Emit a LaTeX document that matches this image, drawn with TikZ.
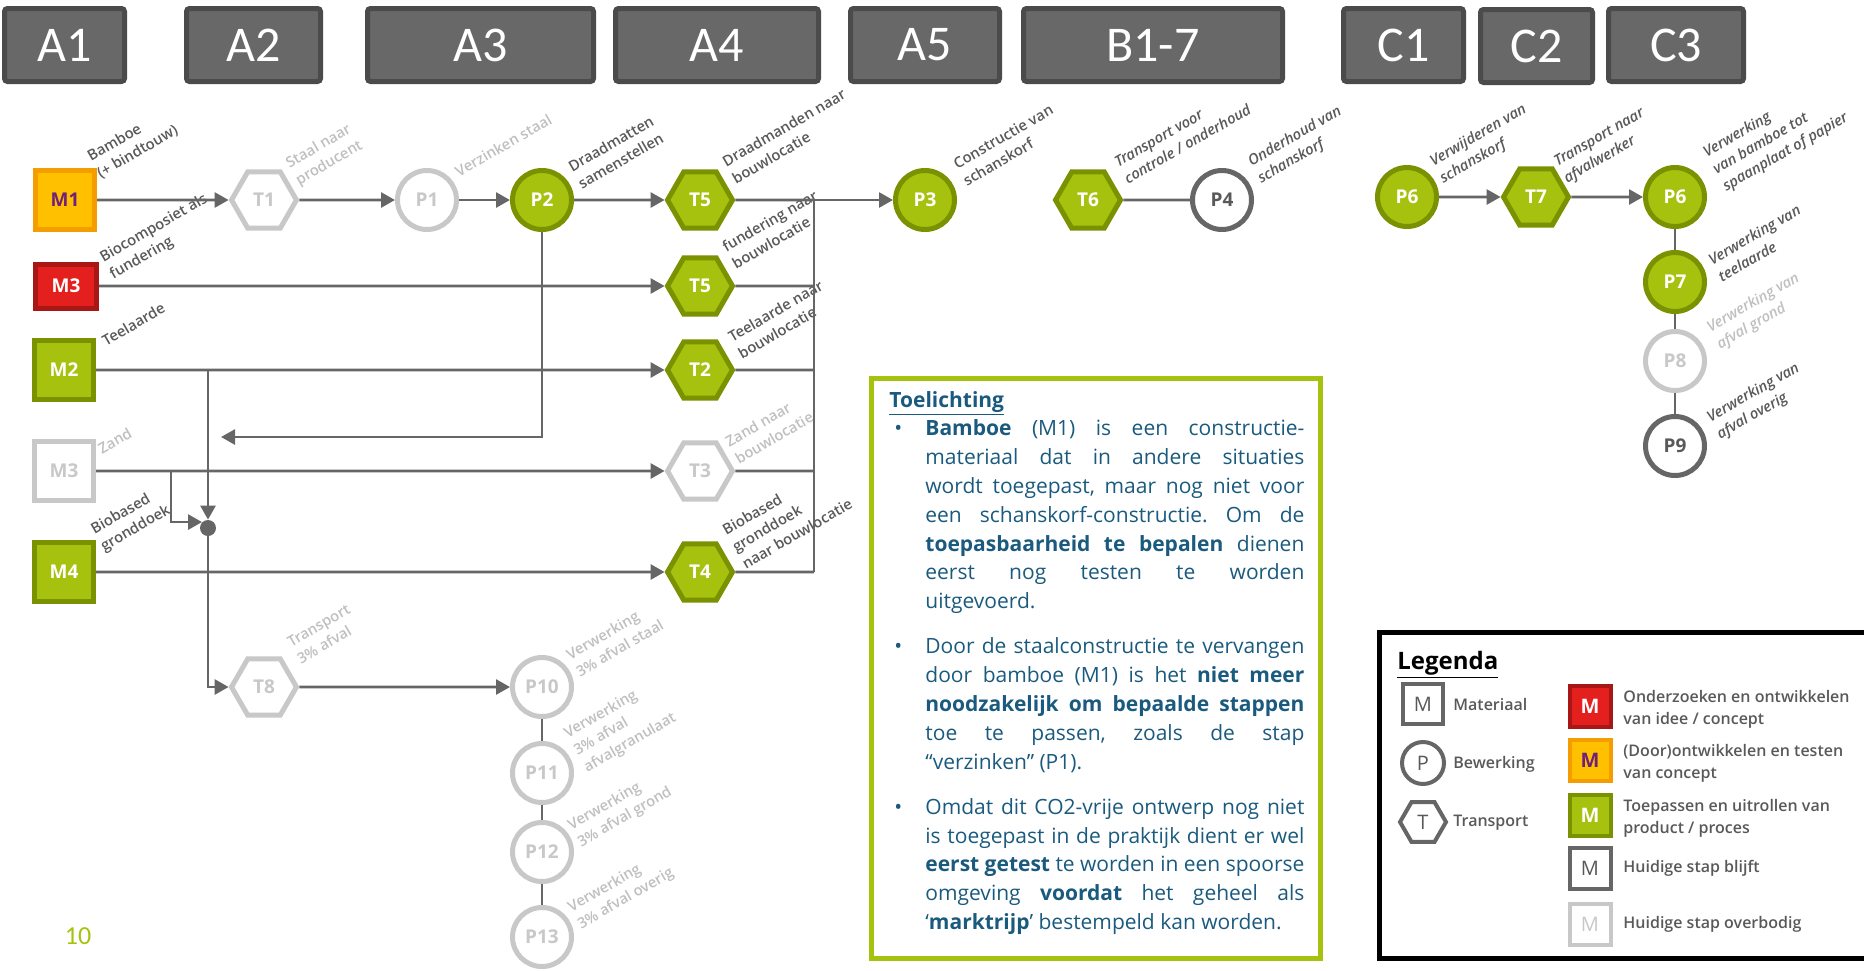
\documentclass[tikz,border=0pt]{standalone}
\usepackage{fontspec}
\setmainfont{Open Sans}
\newfontfamily\hdrfont{Carlito}
\IfFontExistsTF{Open Sans Semibold}{\newfontfamily\semib{Open Sans Semibold}}{\newcommand\semib{\bfseries}}
\usetikzlibrary{shapes.geometric,arrows.meta}
\frenchspacing

\definecolor{grnfill}{HTML}{A6C20F}
\definecolor{grnline}{HTML}{7A9100}
\definecolor{redfill}{HTML}{E3201E}
\definecolor{redline}{HTML}{A81616}
\definecolor{orgfill}{HTML}{FFC000}
\definecolor{orgline}{HTML}{F59C00}
\definecolor{purp}{HTML}{70207A}
\definecolor{dgray}{HTML}{666666}
\definecolor{lgray}{HTML}{C8C8C8}
\definecolor{lbl}{HTML}{595959}
\definecolor{lbllight}{HTML}{BFBFBF}
\definecolor{hdrfill}{HTML}{686868}
\definecolor{hdrline}{HTML}{4B4B4B}
\definecolor{toel}{HTML}{1A5A7E}

\newcommand\toellabel[1]{\hspace{2.5pt}#1\hfil}
\newenvironment{toelpunten}{\begin{list}{\textbullet}{\setlength\leftmargin{18pt}\setlength\labelwidth{18pt}\setlength\labelsep{0pt}\setlength\itemsep{8.2pt}\setlength\parsep{0pt}\setlength\topsep{0pt}\setlength\partopsep{0pt}\let\makelabel\toellabel}}{\end{list}}

\tikzset{
  hdr/.style={draw=hdrline,fill=hdrfill,line width=2.5pt,rounded corners=1.5pt,minimum height=36.5pt,text=white,font=\hdrfont\fontsize{25}{25}\selectfont},
  mat/.style={rectangle,line width=2.5pt,minimum width=29.5pt,minimum height=29.5pt,inner sep=0pt,font=\bfseries\fontsize{9.5}{10}\selectfont},
  proc/.style={circle,line width=2.5pt,minimum size=29.5pt,inner sep=0pt,font=\bfseries\fontsize{9.5}{10}\selectfont},
  trans/.style={regular polygon,regular polygon sides=6,line width=2.5pt,minimum size=32.5pt,inner sep=0pt,font=\bfseries\fontsize{9.5}{10}\selectfont},
  toepas/.style={draw=grnline,fill=grnfill,text=white},
  onderzoek/.style={draw=redline,fill=redfill,text=white},
  ontwikkel/.style={draw=orgline,fill=orgfill,text=purp},
  blijft/.style={draw=dgray,fill=white,text=lbl},
  overbodig/.style={draw=lgray,fill=white,text=lgray},
  lab/.style={anchor=south west,rotate=30,inner sep=0pt,align=left,text=lbl,font=\semib\fontsize{7.4}{9.8}\selectfont},
  labweg/.style={lab,text=lbllight},
  labit/.style={lab,font=\semib\itshape\fontsize{7.4}{9.8}\selectfont},
  flow/.style={draw=dgray,line width=1.35pt,-{Triangle[length=7pt,width=7.5pt]}},
  link/.style={draw=dgray,line width=1.35pt},
  dun/.style={draw=dgray,line width=1pt},
  legtxt/.style={anchor=west,inner sep=0pt,align=left,text=lbl,font=\semib\fontsize{8}{11}\selectfont},
  legsym/.style={line width=2pt,font=\fontsize{10}{10}\selectfont}
}

\begin{document}
\begin{tikzpicture}[x=0.5pt,y=-0.5pt]
\useasboundingbox (0,0) rectangle (1864,970);
% kolomkoppen
\node[hdr,minimum width=60pt] (a1) at (64.5,45) {A1};
\node[hdr,minimum width=67pt] (a2) at (253.5,45) {A2};
\node[hdr,minimum width=113pt] (a3) at (480.5,45) {A3};
\node[hdr,minimum width=101.5pt] (a4) at (717,45) {A4};
\node[hdr,minimum width=74.5pt] (a5) at (925,45) {A5};
\node[hdr,minimum width=129.5pt] (b17) at (1153,45) {B1-7};
\node[hdr,minimum width=60pt] (c1) at (1403.5,45) {C1};
\node[hdr,minimum width=56pt] (c2) at (1536.5,46) {C2};
\node[hdr,minimum width=67.5pt] (c3) at (1676,45) {C3};

% hoofdketen
\node[mat,ontwikkel] (m1) at (65,200) {M1};
\node[trans,overbodig] (t1) at (264,200) {T1};
\node[proc,overbodig] (p1) at (427,200) {P1};
\node[proc,toepas] (p2) at (542,200) {P2};
\node[trans,toepas] (t5a) at (700,200) {T5};
\node[proc,toepas] (p3) at (925,200) {P3};
\node[trans,toepas] (t6) at (1088,200) {T6};
\node[proc,blijft] (p4) at (1222,200) {P4};
\node[proc,toepas] (p6a) at (1407,197) {P6};
\node[trans,toepas] (t7) at (1536,197) {T7};
\node[proc,toepas] (p6b) at (1675,197) {P6};
\node[proc,toepas] (p7) at (1675,282) {P7};
\node[proc,overbodig] (p8) at (1675,361) {P8};
\node[proc,blijft] (p9) at (1675,446) {P9};

% overige materialen
\node[mat,onderzoek,minimum width=30.5pt,minimum height=22pt] (m3r) at (66,286) {M3};
\node[trans,toepas] (t5b) at (700,286) {T5};
\node[mat,toepas] (m2) at (64,370) {M2};
\node[trans,toepas] (t2) at (700,370) {T2};
\node[mat,overbodig] (m3g) at (64,471) {M3};
\node[trans,overbodig] (t3) at (700,471) {T3};
\node[mat,toepas] (m4) at (64,572) {M4};
\node[trans,toepas] (t4) at (700,572) {T4};

% afval 3%
\node[trans,overbodig] (t8) at (264,687) {T8};
\node[proc,overbodig] (p10) at (542,687) {P10};
\node[proc,overbodig] (p11) at (542,773) {P11};
\node[proc,overbodig] (p12) at (542,852) {P12};
\node[proc,overbodig] (p13) at (542,937) {P13};

\node[circle,fill=dgray,inner sep=0pt,minimum size=8pt] (jn) at (208,528) {};
\coordinate (mrg) at (814,200);
\coordinate (mrgb) at (814,572);
\coordinate (br) at (171,471);
\coordinate (ret) at (221,437);

% labels
\node[lab] (l-m1) at (102,181) {Bamboe\\(+ bindtouw)};
\node[labweg] (l-t1) at (301,189) {Staal naar\\producent};
\node[labweg] (l-p1) at (459,178) {Verzinken staal};
\node[lab] (l-p2) at (582,190) {Draadmatten\\samenstellen};
\node[lab] (l-t5a) at (736,185) {Draadmanden naar\\bouwlocatie};
\node[lab] (l-p3) at (967,187) {Constructie van\\schanskorf};
\node[labit] (l-t6) at (1128,185) {Transport voor\\controle / onderhoud};
\node[labit] (l-p4) at (1263,187) {Onderhoud van\\schanskorf};
\node[labit] (l-p6a) at (1445,187) {Verwijderen van\\schanskorf};
\node[labit] (l-t7) at (1569,187) {Transport naar\\afvalwerker};
\node[labit] (l-p6b) at (1728,195) {Verwerking\\van bamboe tot\\spaanplaat of papier};
\node[labit] (l-p7) at (1722,283) {Verwerking van\\teelaarde};
\node[labit,text=lbllight] (l-p8) at (1722,353) {Verwerking van\\afval grond};
\node[labit] (l-p9) at (1722,443) {Verwerking van\\afval overig};
\node[lab] (l-m3r) at (115,283) {Biocomposiet als\\fundering};
\node[lab] (l-t5b) at (736,270) {fundering naar\\bouwlocatie};
\node[lab] (l-m2) at (106,347) {Teelaarde};
\node[lab] (l-t2) at (742,360) {Teelaarde naar\\bouwlocatie};
\node[labweg] (l-m3g) at (102,455) {Zand};
\node[labweg] (l-t3) at (739,465) {Zand naar\\bouwlocatie};
\node[lab] (l-m4) at (106,555) {Biobased\\gronddoek};
\node[lab] (l-t4) at (746,570) {Biobased\\gronddoek\\naar bouwlocatie};
\node[labweg] (l-t8) at (301,665) {Transport\\3\% afval};
\node[labweg] (l-p10) at (580,678) {Verwerking\\3\% afval staal};
\node[labweg] (l-p11) at (589,776) {Verwerking\\3\% afval\\afvalgranulaat};
\node[labweg] (l-p12) at (583,851) {Verwerking\\3\% afval grond};
\node[labweg] (l-p13) at (583,933) {Verwerking\\3\% afval overig};

% verbindingen
\draw[flow] (m1) -- (t1);
\draw[flow] (t1) -- (p1);
\draw[flow] (p1) -- (p2);
\draw[flow] (p2) -- (t5a);
\draw[link] (t5a) -- (mrg);
\draw[flow] (mrg) -- (p3);
\draw[link] (mrg) -- (mrgb);
\draw[link] (t5b) -- (t5b -| mrg);
\draw[link] (t2) -- (t2 -| mrg);
\draw[link] (t3) -- (t3 -| mrg);
\draw[link] (t4) -- (mrgb);
\draw[flow] (m3r) -- (t5b);
\draw[flow] (m2) -- (t2);
\draw[flow] (m3g) -- (t3);
\draw[flow] (m4) -- (t4);
\draw[flow] (p2) |- (ret);
\draw[flow] (jn |- m2) -- (jn);
\draw[flow] (br) |- (jn.north west);
\draw[flow] (jn) |- (t8);
\draw[flow] (t8) -- (p10);
\draw[dun] (p10) -- (p11) -- (p12) -- (p13);
\draw[link] (t6) -- (p4);
\draw[flow] (p6a) -- (t7);
\draw[flow] (t7) -- (p6b);
\draw[dun] (p6b) -- (p7) -- (p8) -- (p9);

% paginanummer
\node[text=grnfill,font=\hdrfont\fontsize{13}{13}\selectfont] (pnum) at (78,936) {10};

% toelichting
\draw[grnfill,line width=2.5pt] (871.5,378.5) rectangle (1320.5,958.5);
\node[anchor=base west,inner sep=0pt,text=toel,font=\fontsize{10.5}{14.4}\selectfont] (toel) at (889,407) {\begin{minipage}[t]{207.5pt}
\hyphenpenalty=10000 \exhyphenpenalty=10000 \tolerance=10000
\underline{\textbf{Toelichting}}
\begin{toelpunten}
\item \textbf{Bamboe} (M1) is een constructie-\linebreak materiaal dat in andere situaties\linebreak wordt toegepast, maar nog niet voor\linebreak een schanskorf-constructie. Om de\linebreak \textbf{toepasbaarheid te bepalen} dienen\linebreak eerst nog testen te worden\linebreak uitgevoerd.
\item Door de staalconstructie te vervangen\linebreak door bamboe (M1) is het \textbf{niet meer}\linebreak \textbf{noodzakelijk om bepaalde stappen}\linebreak toe te passen, zoals de stap\linebreak “verzinken” (P1).
\item Omdat dit CO2-vrije ontwerp nog niet\linebreak is toegepast in de praktijk dient er wel\linebreak \textbf{eerst getest} te worden in een spoorse\linebreak omgeving \textbf{voordat} het geheel als\linebreak ‘\textbf{marktrijp}’ bestempeld kan worden.
\end{toelpunten}
\end{minipage}};

% legenda
\draw[black,line width=2.5pt] (1379.5,632.5) rectangle (1880,958.5);
\node[anchor=base west,inner sep=0pt,font=\bfseries\fontsize{12}{12}\selectfont] (lgd) at (1397,669) {\underline{Legenda}};
\node[mat,blijft,legsym,minimum width=20pt,minimum height=20pt] (lgm) at (1423,704) {M};
\node[proc,blijft,legsym,minimum size=21pt] (lgp) at (1423,763) {P};
\node[trans,blijft,legsym,minimum size=23pt] (lgt) at (1423,822) {T};
\node[legtxt] (lgm-t) at (1453,704) {Materiaal};
\node[legtxt] (lgp-t) at (1453,764) {Bewerking};
\node[legtxt] (lgt-t) at (1453,823) {Transport};
\node[mat,onderzoek,legsym,minimum width=20.5pt,minimum height=20.5pt,font=\bfseries\fontsize{10}{10}\selectfont] (lg1) at (1590,706) {M};
\node[mat,ontwikkel,legsym,minimum width=20.5pt,minimum height=20.5pt,font=\bfseries\fontsize{10}{10}\selectfont] (lg2) at (1590,760) {M};
\node[mat,toepas,legsym,minimum width=20.5pt,minimum height=20.5pt,font=\bfseries\fontsize{10}{10}\selectfont] (lg3) at (1590,815) {M};
\node[mat,blijft,legsym,minimum width=20.5pt,minimum height=20.5pt] (lg4) at (1590,868) {M};
\node[mat,overbodig,legsym,minimum width=20.5pt,minimum height=20.5pt] (lg5) at (1590,924) {M};
\node[legtxt] (lg1-t) at (1623,709) {Onderzoeken en ontwikkelen\\van idee / concept};
\node[legtxt] (lg2-t) at (1623,763) {(Door)ontwikkelen en testen\\van concept};
\node[legtxt] (lg3-t) at (1623,818) {Toepassen en uitrollen van\\product / proces};
\node[legtxt] (lg4-t) at (1623,868) {Huidige stap blijft};
\node[legtxt] (lg5-t) at (1623,924) {Huidige stap overbodig};
\end{tikzpicture}
\end{document}
